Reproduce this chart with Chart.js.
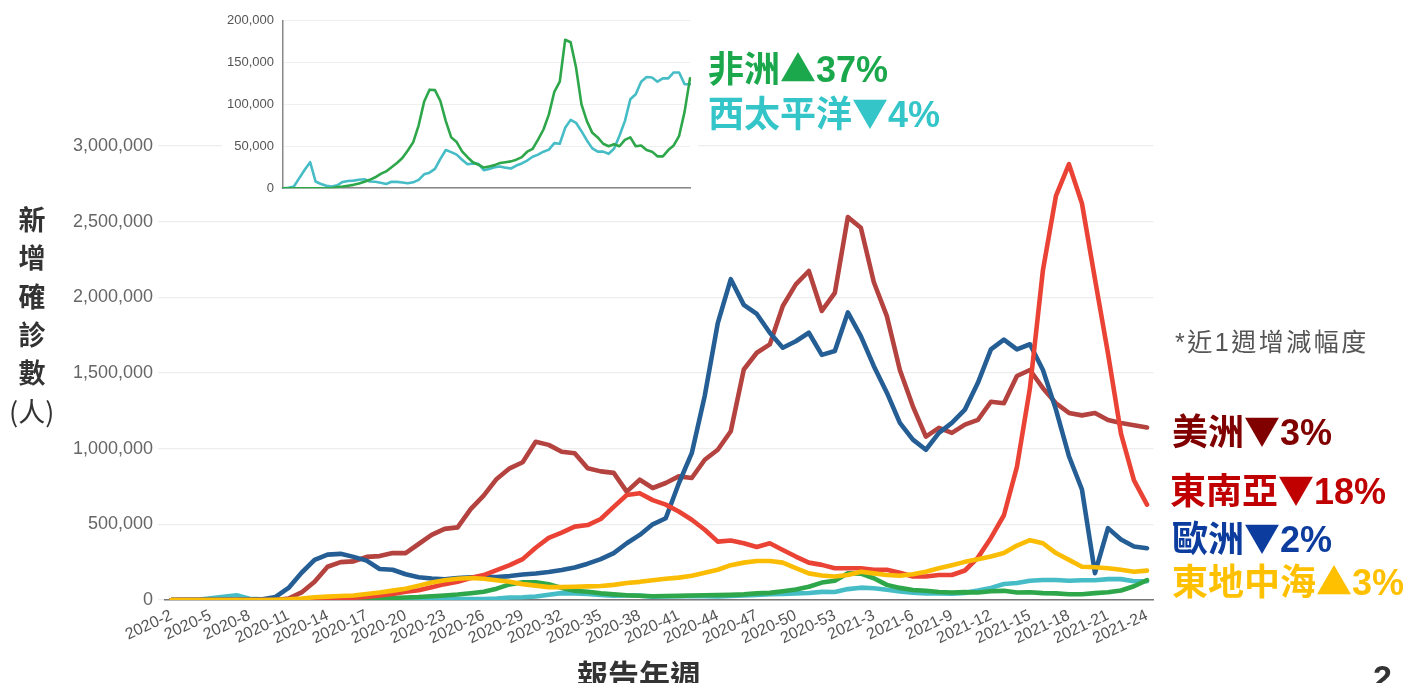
<!DOCTYPE html>
<html><head><meta charset="utf-8">
<script src="https://cdn.jsdelivr.net/npm/chart.js@4/dist/chart.umd.min.js"></script>
<style>
html,body{margin:0;padding:0;background:#fff;}
#wrap{position:relative;width:1414px;height:683px;overflow:hidden;font-family:"Liberation Sans","Noto Sans CJK TC",sans-serif;}
#main{position:absolute;left:0;top:0;}
#inset{position:absolute;left:222px;top:0;background:#fff;}
.lbl{position:absolute;white-space:nowrap;font-weight:700;line-height:1;}
.cjk{font-family:"Noto Sans CJK TC",sans-serif;}
</style></head><body>
<div id="wrap">
<canvas id="main" width="1414" height="683"></canvas>
<canvas id="inset" width="476" height="205"></canvas>
<div class="lbl cjk" style="left:17px;top:200px;width:30px;font-size:27px;line-height:38.3px;color:#333;text-align:center;">新<br>增<br>確<br>診<br>數</div>
<div class="lbl cjk" style="left:9px;top:392px;font-size:27px;line-height:38.3px;color:#333;font-weight:400;">(人)</div>
<div class="lbl cjk" style="left:577px;top:658px;font-size:31px;color:#333;">報告年週</div>
<div class="lbl" style="left:708px;top:48px;font-size:36px;color:#1ba84c;">非洲<span class="cjk">▲</span>37%</div>
<div class="lbl" style="left:708px;top:93px;font-size:36px;color:#33c5c8;">西太平洋<span class="cjk">▼</span>4%</div>
<div class="lbl" style="left:1175px;top:330px;font-size:25px;color:#555;font-weight:400;letter-spacing:2.5px;">*近1週增減幅度</div>
<div class="lbl" style="left:1172px;top:411px;font-size:36px;color:#800000;">美洲<span class="cjk">▼</span>3%</div>
<div class="lbl" style="left:1170px;top:470px;font-size:36px;color:#c00000;">東南亞<span class="cjk">▼</span>18%</div>
<div class="lbl" style="left:1172px;top:518px;font-size:36px;color:#0b3c9e;">歐洲<span class="cjk">▼</span>2%</div>
<div class="lbl" style="left:1172px;top:561px;font-size:36px;color:#ffc000;">東地中海<span class="cjk">▲</span>3%</div>
<div class="lbl" style="left:1373px;top:660px;font-size:34px;color:#333;">2</div>
</div>
<script>
const weeks = ["2020-2","2020-3","2020-4","2020-5","2020-6","2020-7","2020-8","2020-9","2020-10","2020-11","2020-12","2020-13","2020-14","2020-15","2020-16","2020-17","2020-18","2020-19","2020-20","2020-21","2020-22","2020-23","2020-24","2020-25","2020-26","2020-27","2020-28","2020-29","2020-30","2020-31","2020-32","2020-33","2020-34","2020-35","2020-36","2020-37","2020-38","2020-39","2020-40","2020-41","2020-42","2020-43","2020-44","2020-45","2020-46","2020-47","2020-48","2020-49","2020-50","2020-51","2020-52","2020-53","2021-1","2021-2","2021-3","2021-4","2021-5","2021-6","2021-7","2021-8","2021-9","2021-10","2021-11","2021-12","2021-13","2021-14","2021-15","2021-16","2021-17","2021-18","2021-19","2021-20","2021-21","2021-22","2021-23","2021-24"];

const americas = [0,0,0,0,0,0,0,0,0,10000,50000,120000,220000,250000,255000,285000,290000,310000,310000,370000,430000,470000,480000,600000,690000,800000,870000,910000,1045000,1025000,980000,970000,870000,850000,840000,716000,795000,740000,773000,817000,806000,927000,993000,1115000,1523000,1634000,1689000,1943000,2086000,2174000,1910000,2030000,2530000,2460000,2100000,1876000,1520000,1280000,1080000,1137000,1104000,1159000,1190000,1310000,1300000,1480000,1520000,1400000,1300000,1236000,1220000,1236000,1190000,1170000,1155000,1140000];

const seAsia = [0,0,0,0,0,0,0,0,0,0,0,2000,5000,10000,15000,20000,30000,40000,55000,65000,85000,105000,120000,145000,165000,198000,230000,270000,345000,410000,445000,485000,495000,535000,615000,694000,706000,660000,630000,585000,530000,464000,386000,393000,375000,350000,375000,330000,287000,247000,232000,210000,210000,210000,200000,200000,180000,155000,155000,165000,165000,195000,280000,410000,560000,880000,1400000,2180000,2670000,2880000,2620000,2120000,1630000,1100000,790000,630000];

const europe = [0,0,0,0,0,0,2000,5000,20000,80000,180000,265000,300000,305000,285000,260000,205000,200000,170000,150000,142000,137000,145000,150000,152000,152000,158000,168000,175000,185000,198000,215000,240000,270000,310000,375000,430000,500000,540000,770000,970000,1350000,1830000,2120000,1950000,1890000,1766000,1667000,1710000,1766000,1620000,1645000,1900000,1744000,1545000,1370000,1170000,1060000,993000,1104000,1170000,1258000,1435000,1656000,1720000,1656000,1690000,1520000,1258000,950000,730000,177000,475000,400000,353000,342000];

const eastMed = [0,0,0,0,0,0,0,0,2000,4000,10000,18000,22000,26000,30000,40000,50000,62000,75000,95000,115000,130000,140000,145000,140000,130000,120000,105000,95000,85000,85000,88000,90000,93000,100000,112000,120000,130000,140000,148000,160000,180000,200000,230000,247000,258000,258000,247000,210000,176000,162000,155000,165000,187000,176000,165000,160000,170000,187000,210000,230000,252000,270000,287000,310000,360000,395000,375000,310000,265000,220000,216000,210000,200000,187000,194000];

const africa = [0,0,0,0,0,0,0,0,0,0,1500,2000,3000,4000,5500,7600,10000,13000,17000,20000,25000,30000,36000,45000,55000,75000,103000,117500,117000,104000,80000,60600,55000,44000,37000,31000,28000,24600,26000,27500,30000,31000,32000,34000,37000,43500,47000,58000,70000,88000,115000,127000,177000,174000,144000,100000,80000,66000,60600,53000,50000,52300,50000,57600,60600,50000,51000,45500,43600,38000,38000,45500,51000,62500,91000,131000];

const westPacific = [0,500,2000,12000,22000,31000,8000,5000,3000,2000,3500,7500,8500,9000,10000,10600,8000,7600,6500,5000,7600,7500,6800,5800,7000,10000,16500,18500,23000,35000,45500,43000,40000,34000,28500,29500,29000,21500,23000,25000,25800,24500,23500,27000,29500,33000,37500,40000,43500,46000,53800,53000,72000,81500,78000,68000,57000,47500,43600,43600,41000,47000,62500,80000,106000,112000,127000,132600,132000,127000,131000,131000,138000,138000,124000,124000];

const mainTicks = [0,500000,1000000,1500000,2000000,2500000,3000000];
const insetTicks = [0,50000,100000,150000,200000];

const C = {am:'#b4423f', se:'#ea4335', eu:'#245e94', em:'#fbbc04', af:'#2ea64a', wp:'#46bdc6'};
const tickFont = '"Liberation Sans", Arial, sans-serif';
const fmt = v => Number(v).toLocaleString('en-US');

function ds(label, data, color, w){
  return {label, data, borderColor:color, backgroundColor:color, borderWidth:w, pointRadius:0, tension:0, fill:false, borderJoinStyle:'round', borderCapStyle:'round'};
}

new Chart(document.getElementById('main'), {
  type:'line',
  data:{labels:weeks, datasets:[
    ds('東地中海', eastMed, C.em, 4.6),
    ds('東南亞', seAsia, C.se, 4.6),
    ds('歐洲', europe, C.eu, 4.6),
    ds('美洲', americas, C.am, 4.6),
    ds('非洲', africa, C.af, 4.6),
    ds('西太平洋', westPacific, C.wp, 4.6)
  ]},
  options:{
    responsive:false, animation:false, events:[],
    layout:{padding:{left:0,right:260.5,top:146,bottom:0}},
    plugins:{legend:{display:false},tooltip:{enabled:false}},
    scales:{
      x:{offset:true, grid:{display:false,drawTicks:false}, border:{display:true,color:'#777',width:1.5},
        ticks:{autoSkip:false,maxRotation:25,minRotation:25,padding:6,color:'#555',font:{size:16,family:tickFont},
          callback:(v,i)=> i%3===0 ? weeks[i] : ''},
        afterFit:s=>{s.height=83;}},
      y:{min:0,max:3000000,
        afterBuildTicks:s=>{s.ticks=mainTicks.map(v=>({value:v}));},
        ticks:{color:'#666',padding:5,font:{size:18,family:tickFont},callback:v=>fmt(v)},
        grid:{color:'#ededed',lineWidth:1.2,tickLength:7,drawTicks:true},
        border:{display:false},
        afterFit:s=>{s.width=165;}}
    }
  }
});

new Chart(document.getElementById('inset'), {
  type:'line',
  data:{labels:weeks, datasets:[
    ds('非洲', africa, C.af, 2.6),
    ds('西太平洋', westPacific, C.wp, 2.6)
  ]},
  options:{
    responsive:false, animation:false, events:[],
    layout:{padding:{left:0,right:8,top:20.5,bottom:0}},
    plugins:{legend:{display:false},tooltip:{enabled:false}},
    scales:{
      x:{offset:false, grid:{display:false,drawTicks:false}, border:{display:true,color:'#888',width:1.5},
        ticks:{display:false}, afterFit:s=>{s.height=8;}},
      y:{min:0,max:200000,
        afterBuildTicks:s=>{s.ticks=insetTicks.map(v=>({value:v}));},
        ticks:{color:'#555',padding:9,font:{size:13,family:tickFont},callback:v=>fmt(v)},
        grid:{color:'#efefef',lineWidth:1,drawTicks:false},
        border:{display:true,color:'#888',width:1.5},
        afterFit:s=>{s.width=61;}}
    }
  }
});
</script>
</body></html>
